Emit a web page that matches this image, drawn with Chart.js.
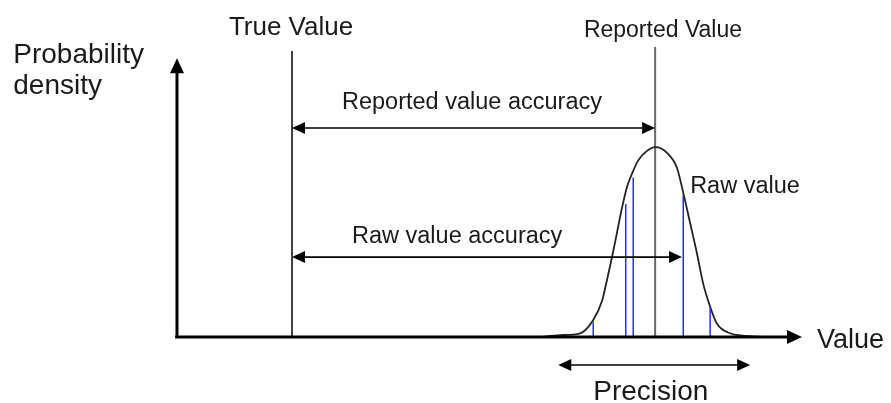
<!DOCTYPE html>
<html>
<head>
<meta charset="utf-8">
<script src="https://cdn.jsdelivr.net/npm/chart.js@4.4.1/dist/chart.umd.min.js"></script>
<style>
    body { margin: 0; background: #ffffff; }
    #wrap { width: 891px; height: 403px; }
</style>
</head>
<body>
<div id="wrap"><canvas id="accuracyChart" width="891" height="403"></canvas></div>
<script>
/*
    Values. Value axis runs 0..100 (arrow tip), density peak is 1.
*/
// probability density curve
const curveX = [58, 61.3, 64.5, 66.6, 68.0, 68.8, 69.6, 70.4, 71.2, 72.0, 72.8, 73.8, 75.2, 76.5, 78.4, 80.0, 81.0, 82.1, 83.2, 84.2, 85.3, 86.4, 88.5, 91.7, 94.5];
const curveY = [0, 0.01, 0.02, 0.09, 0.19, 0.30, 0.42, 0.55, 0.68, 0.79, 0.86, 0.93, 0.98, 1.00, 0.97, 0.89, 0.76, 0.60, 0.44, 0.28, 0.16, 0.07, 0.02, 0.005, 0];

// individual raw values (blue sticks)
const rawX = [66.6, 71.8, 73.0, 81.0, 85.3];
const rawY = [0.08, 0.70, 0.84, 0.75, 0.16];

const trueValue = 18.4;
const reportedValue = 76.5;
const rawValue = 80.8;
const precisionRange = [61.0, 91.7];

const labelTexts = ['Probability', 'density', 'True Value', 'Reported Value', 'Reported value accuracy', 'Raw value accuracy', 'Raw value', 'Value', 'Precision'];

// where each label sits (data units) and its size
const labelPlaces = [
    { x: -26.2, y: 1.442, size: 28 },
    { x: -26.2, y: 1.279, size: 28 },
    { x: 8.3, y: 1.589, size: 26 },
    { x: 65.1, y: 1.579, size: 23 },
    { x: 26.4, y: 1.20, size: 23.5 },
    { x: 28.0, y: 0.495, size: 23.5 },
    { x: 82.1, y: 0.758, size: 23.5 },
    { x: 102.4, y: -0.058, size: 27 },
    { x: 66.6, y: -0.332, size: 28 }
];

function toPoints(xs, ys) {
    return xs.map((x, i) => ({ x: x, y: ys[i] }));
}

const datasets = [];
rawX.forEach((x, i) => {
    datasets.push({
        data: [{ x: x, y: 0 }, { x: x, y: rawY[i] }],
        borderColor: '#2a2aff',
        borderWidth: 1.5
    });
});
datasets.push({
    data: [{ x: trueValue, y: 0 }, { x: trueValue, y: 1.505 }],
    borderColor: '#111111',
    borderWidth: 1.6
});
datasets.push({
    data: toPoints(curveX, curveY),
    borderColor: '#222222',
    borderWidth: 1.8,
    cubicInterpolationMode: 'monotone'
});
datasets.push({
    data: [{ x: reportedValue, y: 0 }, { x: reportedValue, y: 1.526 }],
    borderColor: '#6a6a6a',
    borderWidth: 2
});

// arrows between two data points, head sizes in pixels
const arrows = [
    { from: [0, 0], to: [0, 1.468], both: false, lw: 3, len: 15, half: 7 },
    { from: [-0.3, 0], to: [100, 0], both: false, lw: 3, len: 15, half: 7 },
    { from: [trueValue, 1.10], to: [reportedValue, 1.10], both: true, lw: 1.6, len: 13, half: 6 },
    { from: [trueValue, 0.421], to: [rawValue, 0.421], both: true, lw: 1.6, len: 13, half: 6 },
    { from: [precisionRange[0], -0.147], to: [precisionRange[1], -0.147], both: true, lw: 1.6, len: 13, half: 6 }
];

function drawHead(ctx, x, y, ang, len, half) {
    ctx.beginPath();
    ctx.moveTo(x, y);
    ctx.lineTo(x - len * Math.cos(ang) + half * Math.sin(ang), y - len * Math.sin(ang) - half * Math.cos(ang));
    ctx.lineTo(x - len * Math.cos(ang) - half * Math.sin(ang), y - len * Math.sin(ang) + half * Math.cos(ang));
    ctx.closePath();
    ctx.fill();
}

const diagramPlugin = {
    id: 'diagram',
    afterDatasetsDraw(chart) {
        const ctx = chart.ctx;
        const xs = chart.scales.x;
        const ys = chart.scales.y;
        ctx.save();
        ctx.fillStyle = '#000000';
        ctx.strokeStyle = '#000000';
        arrows.forEach(a => {
            const x1 = xs.getPixelForValue(a.from[0]);
            const y1 = ys.getPixelForValue(a.from[1]);
            const x2 = xs.getPixelForValue(a.to[0]);
            const y2 = ys.getPixelForValue(a.to[1]);
            const ang = Math.atan2(y2 - y1, x2 - x1);
            ctx.lineWidth = a.lw;
            ctx.beginPath();
            ctx.moveTo(a.both ? x1 + Math.cos(ang) * a.len * 0.8 : x1, a.both ? y1 + Math.sin(ang) * a.len * 0.8 : y1);
            ctx.lineTo(x2 - Math.cos(ang) * a.len * 0.8, y2 - Math.sin(ang) * a.len * 0.8);
            ctx.stroke();
            drawHead(ctx, x2, y2, ang, a.len, a.half);
            if (a.both) {
                drawHead(ctx, x1, y1, ang + Math.PI, a.len, a.half);
            }
        });
        ctx.fillStyle = '#1a1a1a';
        ctx.textBaseline = 'alphabetic';
        ctx.textAlign = 'left';
        labelTexts.forEach((t, i) => {
            const p = labelPlaces[i];
            ctx.font = p.size + 'px "Liberation Sans", Arial, sans-serif';
            ctx.fillText(t, xs.getPixelForValue(p.x), ys.getPixelForValue(p.y));
        });
        ctx.restore();
    }
};

const ctx = document.getElementById('accuracyChart').getContext('2d');
const myChart = new Chart(ctx, {
    type: 'scatter',
    data: { datasets: datasets.map(d => Object.assign({ showLine: true, pointRadius: 0, fill: false }, d)) },
    options: {
        responsive: false,
        animation: false,
        layout: { padding: 0 },
        scales: {
            x: { type: 'linear', min: -28.32, max: 114.24, display: false },
            y: { type: 'linear', min: -0.347, max: 1.774, display: false }
        },
        plugins: {
            legend: { display: false },
            tooltip: { enabled: false }
        }
    },
    plugins: [diagramPlugin]
});
</script>
</body>
</html>
